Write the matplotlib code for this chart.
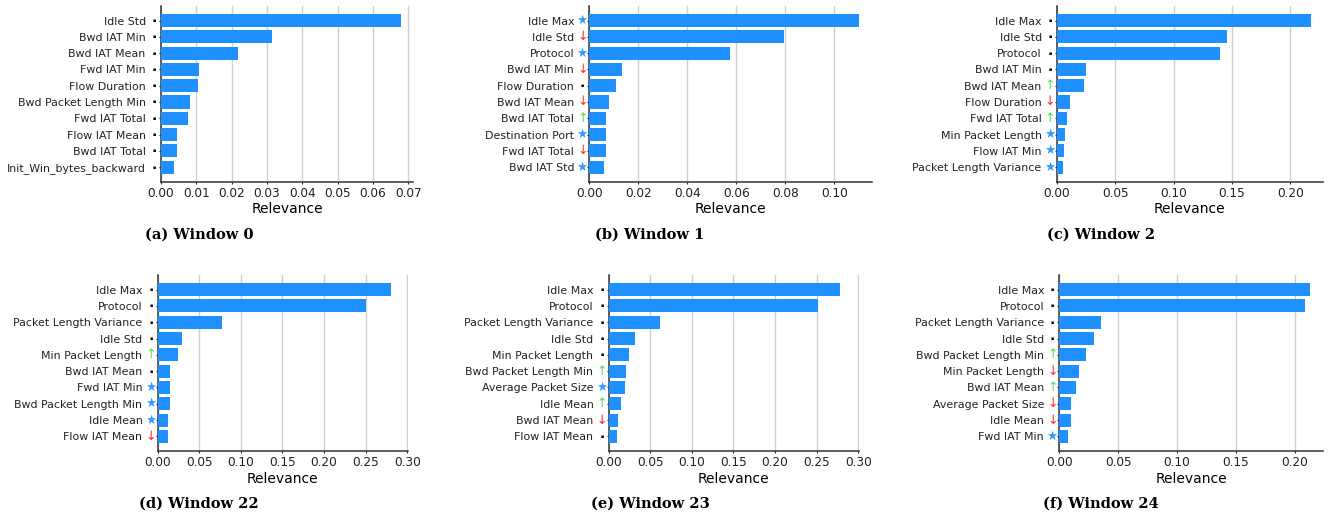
import matplotlib.pyplot as plt
import matplotlib.transforms as mtransforms

# --- dados: top-10 features por janela ---
features_w0 = ["Idle Std", "Bwd IAT Min", "Bwd IAT Mean", "Fwd IAT Min", "Flow Duration",
               "Bwd Packet Length Min", "Fwd IAT Total", "Flow IAT Mean", "Bwd IAT Total",
               "Init_Win_bytes_backward"]
relevance_w0 = [0.0679, 0.0314, 0.0218, 0.0108, 0.0105, 0.0082, 0.0076, 0.0045, 0.0045, 0.0037]
marks_w0 = ["dot"] * 10

features_w1 = ["Idle Max", "Idle Std", "Protocol", "Bwd IAT Min", "Flow Duration", "Bwd IAT Mean",
               "Bwd IAT Total", "Destination Port", "Fwd IAT Total", "Bwd IAT Std"]
relevance_w1 = [0.1099, 0.0793, 0.0573, 0.0133, 0.0109, 0.0080, 0.0068, 0.0068, 0.0068, 0.0060]
marks_w1 = ["star", "down", "star", "down", "dot", "down", "up", "star", "down", "star"]

features_w2 = ["Idle Max", "Idle Std", "Protocol", "Bwd IAT Min", "Bwd IAT Mean", "Flow Duration",
               "Fwd IAT Total", "Min Packet Length", "Flow IAT Min", "Packet Length Variance"]
relevance_w2 = [0.2177, 0.1457, 0.1397, 0.0249, 0.0231, 0.0111, 0.0086, 0.0069, 0.0060, 0.0051]
marks_w2 = ["dot", "dot", "dot", "dot", "up", "down", "up", "star", "star", "star"]

features_w22 = ["Idle Max", "Protocol", "Packet Length Variance", "Idle Std", "Min Packet Length",
                "Bwd IAT Mean", "Fwd IAT Min", "Bwd Packet Length Min", "Idle Mean", "Flow IAT Mean"]
relevance_w22 = [0.2803, 0.2503, 0.0773, 0.0292, 0.0244, 0.0148, 0.0148, 0.0148, 0.0124, 0.0124]
marks_w22 = ["dot", "dot", "dot", "dot", "up", "dot", "star", "star", "star", "down"]

features_w23 = ["Idle Max", "Protocol", "Packet Length Variance", "Idle Std", "Min Packet Length",
                "Bwd Packet Length Min", "Average Packet Size", "Idle Mean", "Bwd IAT Mean",
                "Flow IAT Mean"]
relevance_w23 = [0.2783, 0.2515, 0.0617, 0.0316, 0.0244, 0.0208, 0.0196, 0.0148, 0.0112, 0.0100]
marks_w23 = ["dot", "dot", "dot", "dot", "dot", "up", "star", "up", "down", "dot"]

features_w24 = ["Idle Max", "Protocol", "Packet Length Variance", "Idle Std", "Bwd Packet Length Min",
                "Min Packet Length", "Bwd IAT Mean", "Average Packet Size", "Idle Mean", "Fwd IAT Min"]
relevance_w24 = [0.2130, 0.2088, 0.0354, 0.0295, 0.0227, 0.0167, 0.0142, 0.0099, 0.0099, 0.0074]
marks_w24 = ["dot", "dot", "dot", "dot", "up", "down", "up", "down", "down", "star"]

captions = ["(a) Window 0", "(b) Window 1", "(c) Window 2",
            "(d) Window 22", "(e) Window 23", "(f) Window 24"]
xticks_all = [[0, 0.01, 0.02, 0.03, 0.04, 0.05, 0.06, 0.07],
              [0, 0.02, 0.04, 0.06, 0.08, 0.10],
              [0, 0.05, 0.10, 0.15, 0.20],
              [0, 0.05, 0.10, 0.15, 0.20, 0.25, 0.30],
              [0, 0.05, 0.10, 0.15, 0.20, 0.25, 0.30],
              [0, 0.05, 0.10, 0.15, 0.20]]
xmax_all = [0.0713, 0.1154, 0.2278, 0.301, 0.301, 0.2238]

paineis = [(features_w0, relevance_w0, marks_w0), (features_w1, relevance_w1, marks_w1),
           (features_w2, relevance_w2, marks_w2), (features_w22, relevance_w22, marks_w22),
           (features_w23, relevance_w23, marks_w23), (features_w24, relevance_w24, marks_w24)]

# simbolo, cor, tamanho
simbolos = {"dot": ("\u25aa", "black", 3.5),
            "down": ("\u2193", "#ff2a2a", 9),
            "up": ("\u2191", "#55dd55", 9),
            "star": ("\u2605", "#3399ff", 9)}

W, H = 1328, 517
fig = plt.figure(figsize=(W / 100, H / 100), dpi=100)

# caixas dos eixos em pixels (esq, dir, topo, base)
caixas = [(161, 413, 6, 181.7), (589.3, 872, 6, 181.7), (1057, 1322.7, 6, 181.7),
          (157.7, 408, 275, 451), (608.7, 859, 275, 451), (1059.3, 1322.7, 275, 451)]
centros_legenda = [(199, 235), (650, 235), (1101, 235), (199, 504), (650, 504), (1101, 504)]

for i, (feats, rel, marks) in enumerate(paineis):
    l, r, t, b = caixas[i]
    ax = fig.add_axes([l / W, 1 - b / H, (r - l) / W, (b - t) / H])
    ypos = list(range(len(feats)))
    ax.barh(ypos, rel, height=0.8, color="#1e90ff", zorder=3)
    ax.set_yticks(ypos)
    ax.set_yticklabels(feats, fontsize=7.9)
    ax.invert_yaxis()
    ax.set_xlim(0, xmax_all[i])
    ax.set_xticks(xticks_all[i])
    ax.set_xticklabels(["%.2f" % v for v in xticks_all[i]], fontsize=8.7)
    ax.set_xlabel("Relevance", fontsize=10, labelpad=2)
    ax.grid(axis="x", color="#d0d0d0", linewidth=1, zorder=0)
    ax.set_axisbelow(True)
    for s in ["top", "right"]:
        ax.spines[s].set_visible(False)
    for s in ["left", "bottom"]:
        ax.spines[s].set_color("#333333")
        ax.spines[s].set_linewidth(1.1)
    ax.tick_params(axis="y", length=1.5, width=0.8, pad=9.5, colors="#222222")
    ax.tick_params(axis="x", length=1.5, width=0.8, pad=2, colors="#222222")

    # simbolos entre o rotulo e o eixo
    trans = mtransforms.blended_transform_factory(ax.transAxes, ax.transData) + \
        mtransforms.ScaledTranslation(-7 / 100, 0, fig.dpi_scale_trans)
    for y, m in zip(ypos, marks):
        sym, cor, tam = simbolos[m]
        ax.text(0, y, sym, color=cor, fontsize=tam, ha="center", va="center", transform=trans)

    cx, cy = centros_legenda[i]
    fig.text(cx / W, 1 - cy / H, captions[i], ha="center", va="center",
             fontsize=10.5, fontweight="bold", family="DejaVu Serif")

fig.savefig("out.png", dpi=100)
